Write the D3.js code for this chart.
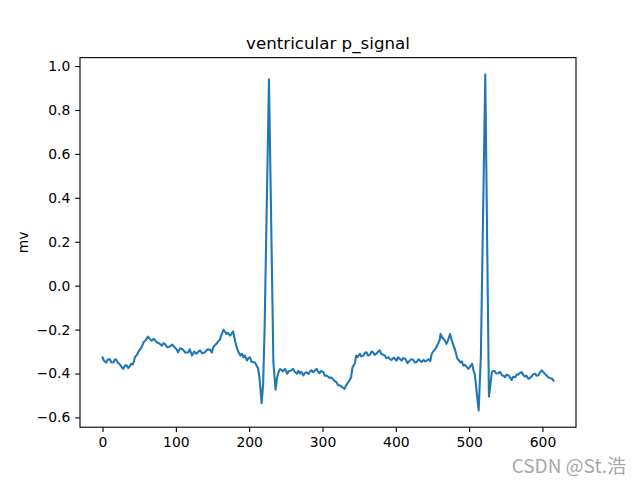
<!DOCTYPE html>
<html><head><meta charset="utf-8">
<script src="https://cdn.jsdelivr.net/npm/d3@7"></script>
<style>html,body{margin:0;padding:0;background:#fff;}svg{display:block;}</style>
</head><body>
<svg id="chart" width="640" height="480"></svg>
<script>
const sampleIndex = [0,2,5,7,10,12,15,17,19,21,23,26,28,31,33,35,37,39,41,43,44,47,50,53,56,59,62,65,67,70,74,77,81,83,85,88,92,95,99,101,103,106,110,113,117,119,122,125,128,131,133,136,140,143,147,149,151,153,156,158,160,162,165,167,169,171,174,176,178,181,183,185,188,190,192,194,197,199,201,203,206,208,210,212,214,217,219,221,227,233,236,238,240,242,244,246,249,252,254,257,260,262,265,267,269,271,274,276,278,281,283,285,287,290,292,294,296,298,301,303,305,308,310,312,315,317,319,321,324,326,328,330,332,335,337,339,341,343,344,346,348,351,353,356,358,360,362,365,367,369,371,374,376,378,380,383,385,387,390,392,394,397,399,401,403,406,408,410,413,416,419,421,424,426,428,431,433,435,438,440,442,445,447,449,451,454,456,458,460,461,463,465,467,469,471,474,476,478,481,484,486,488,490,492,494,497,499,501,504,506,508,510,513,516,522,527,531,533,535,537,540,542,545,547,549,551,554,556,558,560,563,565,567,569,572,574,576,578,581,583,585,587,590,592,594,596,599,601,603,606,608,610,613,615];
const mvValues = [-0.327,-0.342,-0.35,-0.336,-0.335,-0.35,-0.349,-0.335,-0.338,-0.352,-0.356,-0.37,-0.379,-0.362,-0.364,-0.375,-0.368,-0.356,-0.359,-0.345,-0.326,-0.315,-0.295,-0.282,-0.258,-0.248,-0.232,-0.245,-0.25,-0.242,-0.258,-0.262,-0.273,-0.262,-0.265,-0.28,-0.277,-0.268,-0.283,-0.29,-0.303,-0.285,-0.292,-0.305,-0.303,-0.29,-0.318,-0.3,-0.31,-0.3,-0.295,-0.308,-0.303,-0.29,-0.292,-0.305,-0.28,-0.272,-0.262,-0.252,-0.247,-0.225,-0.201,-0.21,-0.22,-0.215,-0.227,-0.218,-0.208,-0.255,-0.28,-0.3,-0.318,-0.31,-0.326,-0.318,-0.341,-0.33,-0.326,-0.345,-0.349,-0.35,-0.364,-0.375,-0.417,-0.535,-0.45,-0.2,0.94,-0.35,-0.474,-0.42,-0.394,-0.38,-0.383,-0.39,-0.379,-0.401,-0.39,-0.386,-0.379,-0.392,-0.401,-0.388,-0.399,-0.392,-0.409,-0.398,-0.394,-0.402,-0.39,-0.385,-0.394,-0.385,-0.379,-0.392,-0.399,-0.388,-0.394,-0.41,-0.409,-0.415,-0.42,-0.418,-0.429,-0.435,-0.44,-0.452,-0.455,-0.46,-0.465,-0.47,-0.455,-0.44,-0.43,-0.417,-0.371,-0.36,-0.356,-0.318,-0.325,-0.31,-0.322,-0.318,-0.305,-0.303,-0.318,-0.314,-0.3,-0.303,-0.315,-0.308,-0.3,-0.295,-0.31,-0.315,-0.318,-0.33,-0.326,-0.335,-0.338,-0.328,-0.333,-0.342,-0.326,-0.335,-0.341,-0.33,-0.333,-0.353,-0.341,-0.335,-0.338,-0.35,-0.349,-0.336,-0.341,-0.348,-0.338,-0.345,-0.341,-0.335,-0.344,-0.31,-0.3,-0.288,-0.275,-0.262,-0.245,-0.22,-0.235,-0.242,-0.25,-0.265,-0.25,-0.22,-0.245,-0.265,-0.295,-0.333,-0.34,-0.349,-0.345,-0.364,-0.36,-0.371,-0.379,-0.37,-0.356,-0.386,-0.409,-0.477,-0.568,-0.32,0.962,-0.505,-0.394,-0.388,-0.39,-0.4,-0.399,-0.392,-0.409,-0.41,-0.417,-0.405,-0.409,-0.42,-0.429,-0.415,-0.417,-0.405,-0.405,-0.398,-0.394,-0.408,-0.414,-0.41,-0.424,-0.42,-0.414,-0.405,-0.401,-0.41,-0.409,-0.398,-0.386,-0.392,-0.401,-0.41,-0.417,-0.42,-0.424,-0.432];
const xTicks = [0,100,200,300,400,500,600];
const yTicks = [-0.6,-0.4,-0.2,0.0,0.2,0.4,0.6,0.8,1.0];
const titleText = "ventricular p_signal";
const yLabel = "mv";
const watermark = "CSDN @St.浩";

const W = 640, H = 480;
const m = {left: 80, right: 576, top: 57.6, bottom: 427.2};
const svg = d3.select("#chart");
const font = "'DejaVu Sans', sans-serif";

const nMax = 615;
const xPad = nMax * 0.05;
const x = d3.scaleLinear().domain([-xPad, nMax + xPad]).range([m.left, m.right]);
const yMin = d3.min(mvValues), yMax = d3.max(mvValues);
const yPad = (yMax - yMin) * 0.05;
const y = d3.scaleLinear().domain([yMin - yPad, yMax + yPad]).range([m.bottom, m.top]);

const data = sampleIndex.map((d, i) => ({i: d, v: mvValues[i]}));

const fmtY = v => { const s = d3.format(".1f")(Math.abs(v) < 1e-9 ? 0 : v); return s.replace("-", "\u2212"); };

const xAxis = d3.axisBottom(x).tickValues(xTicks).tickSize(4.86).tickPadding(4.86).tickFormat(d3.format("d"));
const yAxis = d3.axisLeft(y).tickValues(yTicks).tickSize(4.86).tickPadding(4.86).tickFormat(fmtY);

const gx = svg.append("g").attr("transform", `translate(0,${m.bottom})`).call(xAxis);
const gy = svg.append("g").attr("transform", `translate(${m.left},0)`).call(yAxis);
[gx, gy].forEach(g => {
  g.select(".domain").remove();
  g.selectAll(".tick line").attr("stroke", "#000").attr("stroke-width", 1.1);
  g.selectAll(".tick text").attr("fill", "#000").style("font-family", font).style("font-size", "13.9px");
});

svg.append("path")
  .datum(data)
  .attr("fill", "none")
  .attr("stroke", "#1f77b4")
  .attr("stroke-width", 2.08)
  .attr("stroke-linejoin", "round")
  .attr("stroke-linecap", "square")
  .attr("d", d3.line().x(d => x(d.i)).y(d => y(d.v)));

svg.append("rect")
  .attr("x", m.left).attr("y", m.top)
  .attr("width", m.right - m.left).attr("height", m.bottom - m.top)
  .attr("fill", "none").attr("stroke", "#000").attr("stroke-width", 1.1);

svg.append("text")
  .attr("x", (m.left + m.right) / 2).attr("y", m.top - 8.3)
  .attr("text-anchor", "middle")
  .style("font-family", font).style("font-size", "16.7px")
  .text(titleText);

svg.append("text")
  .attr("transform", `translate(28,${(m.top + m.bottom) / 2}) rotate(-90)`)
  .attr("text-anchor", "middle")
  .style("font-family", font).style("font-size", "13.9px")
  .text(yLabel);

svg.append("text")
  .attr("x", 626).attr("y", 473)
  .attr("text-anchor", "end")
  .attr("fill", "#a8a8a8")
  .style("font-family", "'Noto Sans CJK SC', 'Noto Sans', sans-serif")
  .style("font-size", "19px")
  .text(watermark);
</script>
</body></html>
